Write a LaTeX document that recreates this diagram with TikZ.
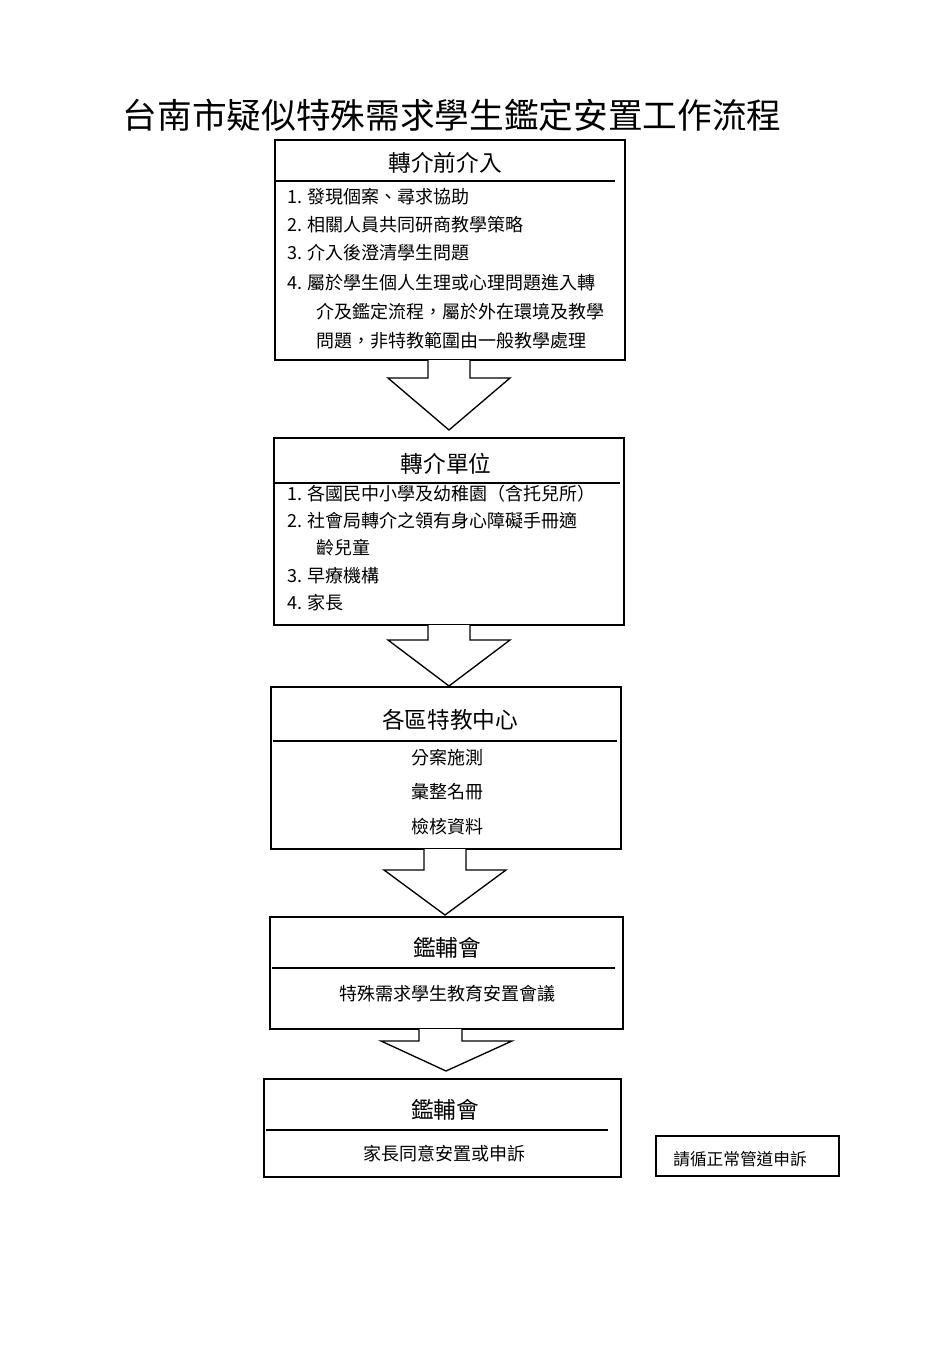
\documentclass[tikz,border=0pt]{standalone}
\usepackage{fontspec}
\setmainfont{Noto Sans CJK TC}
\begin{document}
\begin{tikzpicture}[x=0.75pt,y=-0.75pt,
  box/.style={draw,line width=1pt},
  hd/.style={font=\fontsize{17}{20}\selectfont,anchor=center,inner sep=0},
  it/.style={font=\fontsize{13.5}{16}\selectfont,anchor=west,inner sep=0},
  ct/.style={font=\fontsize{13.5}{16}\selectfont,anchor=center,inner sep=0},
  barr/.style={draw,line width=1pt,fill=white}]
\useasboundingbox (0,0) rectangle (950,1346);
\node[font=\fontsize{26}{30}\selectfont,inner sep=0] (title) at (452,115) {台南市疑似特殊需求學生鑑定安置工作流程};
% box 1
\draw[box] (275,140) rectangle (625,360);
\draw[line width=0.8pt] (275,181) -- (615,181);
\node[hd] (h1) at (445,163) {轉介前介入};
\node[it] (a1) at (287,197) {1. 發現個案、尋求協助};
\node[it] (a2) at (287,225) {2. 相關人員共同研商教學策略};
\node[it] (a3) at (287,253) {3. 介入後澄清學生問題};
\node[it] (a4) at (287,283) {4. 屬於學生個人生理或心理問題進入轉};
\node[it] (a5) at (316,312) {介及鑑定流程，屬於外在環境及教學};
\node[it] (a6) at (316,341) {問題，非特教範圍由一般教學處理};
\draw[barr] (428,360)--(428,378)--(388,378)--(449,430)--(510,378)--(470,378)--(470,360);
% box 2
\draw[box] (274,438) rectangle (624,625);
\draw[line width=1.3pt] (275,483) -- (620,483);
\node[hd] (h2) at (446,464) {轉介單位};
\node[it] (b1) at (287,494) {1. 各國民中小學及幼稚園（含托兒所）};
\node[it] (b2) at (287,521) {2. 社會局轉介之領有身心障礙手冊適};
\node[it] (b3) at (316,548) {齡兒童};
\node[it] (b4) at (287,576) {3. 早療機構};
\node[it] (b5) at (287,603) {4. 家長};
\draw[barr] (428,625)--(428,640)--(388,640)--(449,686)--(510,640)--(470,640)--(470,625);
% box 3
\draw[box] (271,687) rectangle (621,849);
\draw[line width=0.8pt] (273,741) -- (617,741);
\node[hd] (h3) at (450,720) {各區特教中心};
\node[ct] (c1) at (447,758) {分案施測};
\node[ct] (c2) at (447,792) {彙整名冊};
\node[ct] (c3) at (447,827) {檢核資料};
\draw[barr] (424,849)--(424,870)--(384,870)--(445,915)--(506,870)--(466,870)--(466,849);
% box 4
\draw[box] (270,917) rectangle (623,1029);
\draw[line width=0.8pt] (272,968) -- (615,968);
\node[hd] (h4) at (447,948) {鑑輔會};
\node[ct] (d1) at (447,994) {特殊需求學生教育安置會議};
\draw[barr] (419,1029)--(419,1041)--(381,1041)--(446,1071)--(512,1041)--(462,1041)--(462,1029);
% box 5
\draw[box] (264,1079) rectangle (621,1177);
\draw[line width=0.8pt] (266,1130) -- (608,1130);
\node[hd] (h5) at (445,1110) {鑑輔會};
\node[ct] (e1) at (444,1154) {家長同意安置或申訴};
% box 6
\draw[box] (656,1136) rectangle (839,1176);
\node[ct,font=\fontsize{12.5}{15}\selectfont] (f1) at (740,1159) {請循正常管道申訴};
\end{tikzpicture}
\end{document}
